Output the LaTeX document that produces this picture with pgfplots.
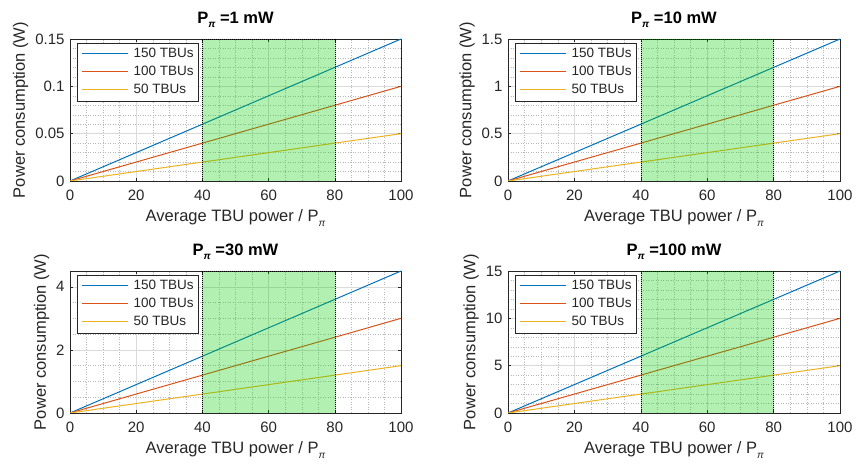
\documentclass[border=0pt]{standalone}
\usepackage{fontspec}
\setmainfont{Liberation Sans}
\usepackage{pgfplots}
\pgfplotsset{compat=1.18}
\definecolor{mblue}{RGB}{0,114,189}
\definecolor{mred}{RGB}{217,83,25}
\definecolor{myel}{RGB}{237,177,32}
\definecolor{mtext}{RGB}{38,38,38}
\definecolor{mgreen}{RGB}{0,205,0}
\newcommand{\psub}{\raisebox{-0.5ex}{\fontsize{10}{10}\selectfont\itshape π}}
\newcommand{\lgl}[1]{\tikz[baseline=-4pt]{\draw[draw=#1,line width=1pt,solid] (0pt,0pt) -- (46pt,0pt);}\hspace{5pt}}
\newcommand{\leg}{\legend{\lgl{mblue}150 TBUs,\lgl{mred}100 TBUs,\lgl{myel}50 TBUs}}
\pgfplotsset{mstyle/.style={
  width=331pt, height=142pt, scale only axis,
  xmin=0, xmax=100, xtick={0,20,...,100}, minor x tick num=3,
  ymin=0,
  grid=both,
  major grid style={black!14, line width=0.5pt},
  minor grid style={black!28, dash pattern=on 1pt off 1.5pt, line width=0.4pt},
  tick align=inside, major tick length=3pt, minor tick length=0pt,
  axis line style={mtext, line width=0.5pt}, tick style={mtext, line width=0.5pt},
  every tick label/.append style={font=\fontsize{15}{15}\selectfont, text=mtext},
  xticklabel style={yshift=-5pt},
  yticklabel style={xshift=-2pt, /pgf/number format/fixed},
  /pgf/number format/assume math mode=true,
  scaled y ticks=false,
  xlabel style={font=\fontsize{16.5}{16.5}\selectfont, text=mtext, yshift=-3pt},
  ylabel style={font=\fontsize{16.5}{16.5}\selectfont, text=mtext},
  title style={font=\bfseries\fontsize{16.5}{16.5}\selectfont, yshift=2pt},
  xlabel={Average TBU power / P\psub},
  ylabel={Power consumption (W)},
  legend cell align=left,
  legend image code/.code={},
  legend style={at={(0.021,0.972)}, anchor=north west, draw=mtext,
    font=\fontsize{13.5}{13.5}\selectfont, inner sep=2pt, row sep=0pt, column sep=0pt,
    nodes={text height=10pt, text depth=3pt, inner sep=2.5pt, text=mtext}},
}}
\pgfplotsset{
  greenbox/.style={forget plot, fill=mgreen, fill opacity=0.3, draw=black, draw opacity=1, dash pattern=on 1pt off 1pt, line width=0.6pt}}
\begin{document}
\begin{tikzpicture}
\useasboundingbox (0,0) rectangle (854pt,468pt);
% top-left
\begin{axis}[mstyle, at={(70pt,287pt)}, anchor=south west,
  ymax=0.15, ytick={0,0.05,0.1,0.15}, minor y tick num=4,
  title={P\psub{} =1 mW}]
\addplot[color=mblue, line width=1pt] coordinates {(0,0) (100,0.15)};
\addplot[color=mred, line width=1pt] coordinates {(0,0) (100,0.1)};
\addplot[color=myel, line width=1pt] coordinates {(0,0) (100,0.05)};
\leg
\addplot[greenbox] coordinates {(40,0) (80,0) (80,0.15) (40,0.15) (40,0)};
\end{axis}
% top-right
\begin{axis}[mstyle, width=332pt, at={(508pt,287pt)}, anchor=south west,
  ymax=1.5, ytick={0,0.5,1,1.5}, minor y tick num=4,
  title={P\psub{} =10 mW}]
\addplot[color=mblue, line width=1pt] coordinates {(0,0) (100,1.5)};
\addplot[color=mred, line width=1pt] coordinates {(0,0) (100,1.0)};
\addplot[color=myel, line width=1pt] coordinates {(0,0) (100,0.5)};
\leg
\addplot[greenbox] coordinates {(40,0) (80,0) (80,1.5) (40,1.5) (40,0)};
\end{axis}
% bottom-left
\begin{axis}[mstyle, at={(70pt,55pt)}, anchor=south west,
  ymax=4.5, ytick={0,2,4}, minor ytick={0.5,1,1.5,2.5,3,3.5,4.5},
  title={P\psub{} =30 mW}]
\addplot[color=mblue, line width=1pt] coordinates {(0,0) (100,4.5)};
\addplot[color=mred, line width=1pt] coordinates {(0,0) (100,3.0)};
\addplot[color=myel, line width=1pt] coordinates {(0,0) (100,1.5)};
\leg
\addplot[greenbox] coordinates {(40,0) (80,0) (80,4.5) (40,4.5) (40,0)};
\end{axis}
% bottom-right
\begin{axis}[mstyle, width=332pt, at={(508pt,55pt)}, anchor=south west,
  ymax=15, ytick={0,5,10,15}, minor y tick num=4,
  title={P\psub{} =100 mW}]
\addplot[color=mblue, line width=1pt] coordinates {(0,0) (100,15)};
\addplot[color=mred, line width=1pt] coordinates {(0,0) (100,10)};
\addplot[color=myel, line width=1pt] coordinates {(0,0) (100,5)};
\leg
\addplot[greenbox] coordinates {(40,0) (80,0) (80,15) (40,15) (40,0)};
\end{axis}
\end{tikzpicture}
\end{document}
